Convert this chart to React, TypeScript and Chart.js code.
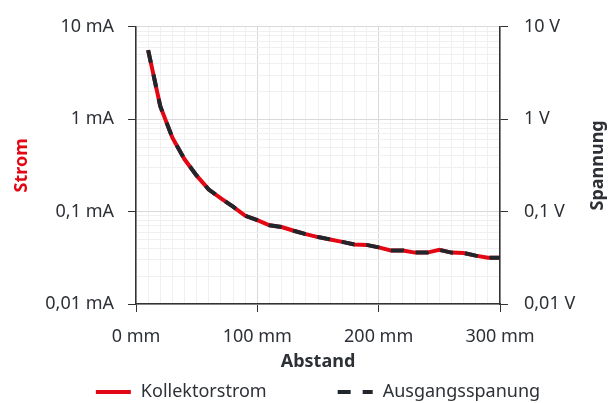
import React, { useEffect, useRef } from 'react';
import { Chart, registerables } from 'chart.js';

Chart.register(...registerables);

// ---- data ----
const distances = [10, 20, 30, 40, 50, 60, 70, 80, 90, 100, 110, 120, 130, 140, 150, 160, 170, 180, 190, 200, 210, 220, 230, 240, 250, 260, 270, 280, 290, 300];
const collectorCurrent = [5.6, 1.38, 0.63, 0.368, 0.245, 0.173, 0.139, 0.113, 0.09, 0.081, 0.071, 0.068, 0.062, 0.057, 0.053, 0.05, 0.047, 0.044, 0.0436, 0.041, 0.038, 0.038, 0.036, 0.036, 0.0385, 0.036, 0.0357, 0.0334, 0.0316, 0.0316];
const outputVoltage = [5.6, 1.38, 0.63, 0.368, 0.245, 0.173, 0.139, 0.113, 0.09, 0.081, 0.071, 0.068, 0.062, 0.057, 0.053, 0.05, 0.047, 0.044, 0.0436, 0.041, 0.038, 0.038, 0.036, 0.036, 0.0385, 0.036, 0.0357, 0.0334, 0.0316, 0.0316];

const xMajorTicks = [0, 100, 200, 300];
const xTickLabels = ['0 mm', '100 mm', '200 mm', '300 mm'];
const yDecades = [0.01, 0.1, 1, 10];
const currentTickLabels = ['0,01 mA', '0,1 mA', '1 mA', '10 mA'];
const voltageTickLabels = ['0,01 V', '0,1 V', '1 V', '10 V'];
const seriesNames = ['Kollektorstrom', 'Ausgangsspanung'];
const xTitle = 'Abstand';
const leftTitle = 'Strom';
const rightTitle = 'Spannung';

// ---- styles ----
const FONT = "'Noto Sans', sans-serif";
const TEXT = '#2d3136';
const RED = '#e30613';
const DARK = '#1f262c';
const GRID_MAJOR = '#d9d9d9';
const GRID_MINOR = '#f0f0f0';
const AXIS = '#333';

const logTickValues: number[] = [];
for (let d = 0; d < yDecades.length - 1; d++) {
  for (let m = 1; m <= 9; m++) logTickValues.push(yDecades[d] * m);
}
logTickValues.push(yDecades[yDecades.length - 1]);

const decadeIndex = (v: number) => yDecades.findIndex((d) => Math.abs(d - v) / d < 1e-6);

const customLegend = {
  id: 'customLegend',
  afterDraw(chart: any) {
    const ctx = chart.ctx;
    const area = chart.chartArea;
    const boxW = 35;
    const gap = 10;
    const spacing = 71;
    const y = 392;
    ctx.save();
    ctx.font = `18px ${FONT}`;
    const widths = chart.data.datasets.map((ds: any) => boxW + gap + ctx.measureText(ds.label).width);
    const total = widths.reduce((a: number, b: number) => a + b, 0) + spacing * (widths.length - 1);
    let x = (area.left + area.right) / 2 - total / 2;
    chart.data.datasets.forEach((ds: any, i: number) => {
      ctx.beginPath();
      ctx.strokeStyle = ds.borderColor;
      ctx.lineWidth = 4;
      ctx.lineCap = 'butt';
      ctx.setLineDash(ds.borderDash || []);
      ctx.moveTo(x, y);
      ctx.lineTo(x + boxW, y);
      ctx.stroke();
      ctx.setLineDash([]);
      ctx.fillStyle = TEXT;
      ctx.textAlign = 'left';
      ctx.textBaseline = 'middle';
      ctx.fillText(ds.label, x + boxW + gap, y);
      x += widths[i] + spacing;
    });
    // right axis title, reading bottom-to-top
    ctx.font = `bold 18px ${FONT}`;
    ctx.fillStyle = TEXT;
    ctx.translate(598, (area.top + area.bottom) / 2);
    ctx.rotate(-Math.PI / 2);
    ctx.textAlign = 'center';
    ctx.textBaseline = 'middle';
    ctx.fillText(rightTitle, 0, 0);
    ctx.restore();
  },
};

export default function App() {
  const ref = useRef<HTMLCanvasElement | null>(null);

  useEffect(() => {
    if (!ref.current) return;
    const yGrid = (ctx: any) => (ctx.tick && decadeIndex(ctx.tick.value) >= 0 ? GRID_MAJOR : GRID_MINOR);
    const yTick = (ctx: any) => (ctx.tick && decadeIndex(ctx.tick.value) >= 0 ? AXIS : 'rgba(0,0,0,0)');
    const isXMajor = (ctx: any) => ctx.tick && xMajorTicks.indexOf(Math.round(ctx.tick.value)) >= 0;

    const chart = new Chart(ref.current, {
      type: 'line',
      data: {
        datasets: [
          {
            label: seriesNames[0],
            data: distances.map((x, i) => ({ x, y: collectorCurrent[i] })),
            yAxisID: 'y',
            borderColor: RED,
            backgroundColor: RED,
            borderWidth: 4,
            pointRadius: 0,
            tension: 0,
            order: 1,
          },
          {
            label: seriesNames[1],
            data: distances.map((x, i) => ({ x, y: outputVoltage[i] })),
            yAxisID: 'y1',
            borderColor: DARK,
            backgroundColor: DARK,
            borderWidth: 4,
            borderDash: [13, 12],
            pointRadius: 0,
            tension: 0,
            order: 0,
          },
        ],
      },
      options: {
        responsive: false,
        animation: false,
        layout: { padding: { top: 24, bottom: 30, left: 0, right: 0 } },
        plugins: { legend: { display: false }, tooltip: { enabled: false } },
        scales: {
          x: {
            type: 'linear',
            position: 'bottom',
            min: 0,
            max: 300,
            ticks: {
              stepSize: 10,
              autoSkip: false,
              maxRotation: 0,
              padding: 14,
              color: TEXT,
              font: { family: FONT, size: 18 },
              callback: (v: any) => {
                const i = xMajorTicks.indexOf(Math.round(Number(v)));
                return i >= 0 ? xTickLabels[i] : '';
              },
            },
            grid: {
              color: (ctx: any) => (isXMajor(ctx) ? GRID_MAJOR : GRID_MINOR),
              tickColor: (ctx: any) => (isXMajor(ctx) ? AXIS : 'rgba(0,0,0,0)'),
              tickLength: 8,
              lineWidth: 1,
            },
            border: { color: AXIS, width: 1.5 },
            title: {
              display: true,
              text: xTitle,
              color: TEXT,
              font: { family: FONT, size: 18, weight: 'bold' },
              padding: { top: 0, bottom: 0 },
            },
            afterFit: (s: any) => {
              s.height = 69;
            },
          },
          y: {
            type: 'logarithmic',
            position: 'left',
            min: 0.01,
            max: 10,
            afterBuildTicks: (s: any) => {
              s.ticks = logTickValues.map((v) => ({ value: v, major: decadeIndex(v) >= 0 }));
            },
            ticks: {
              autoSkip: false,
              padding: 14,
              color: TEXT,
              font: { family: FONT, size: 18 },
              callback: (v: any) => {
                const i = decadeIndex(Number(v));
                return i >= 0 ? currentTickLabels[i] : '';
              },
            },
            grid: { color: yGrid, tickColor: yTick, tickLength: 8, lineWidth: 1 },
            border: { color: AXIS, width: 1.5 },
            title: {
              display: true,
              text: leftTitle,
              color: RED,
              font: { family: FONT, size: 18, weight: 'bold' },
              padding: { top: 11, bottom: 0 },
            },
            afterFit: (s: any) => {
              s.width = 136;
            },
          },
          y1: {
            type: 'logarithmic',
            position: 'right',
            min: 0.01,
            max: 10,
            afterBuildTicks: (s: any) => {
              s.ticks = logTickValues.map((v) => ({ value: v, major: decadeIndex(v) >= 0 }));
            },
            ticks: {
              autoSkip: false,
              padding: 16,
              color: TEXT,
              font: { family: FONT, size: 18 },
              callback: (v: any) => {
                const i = decadeIndex(Number(v));
                return i >= 0 ? voltageTickLabels[i] : '';
              },
            },
            grid: { drawOnChartArea: false, tickColor: yTick, tickLength: 8 },
            border: { color: AXIS, width: 1.5 },
            afterFit: (s: any) => {
              s.width = 115;
            },
          },
        },
      } as any,
      plugins: [customLegend],
    });
    return () => chart.destroy();
  }, []);

  return (
    <div style={{ position: 'absolute', left: 0, top: 0, width: 615, height: 403, background: '#fff' }}>
      <canvas ref={ref} width={615} height={403} style={{ display: 'block', width: 615, height: 403 }} />
    </div>
  );
}
